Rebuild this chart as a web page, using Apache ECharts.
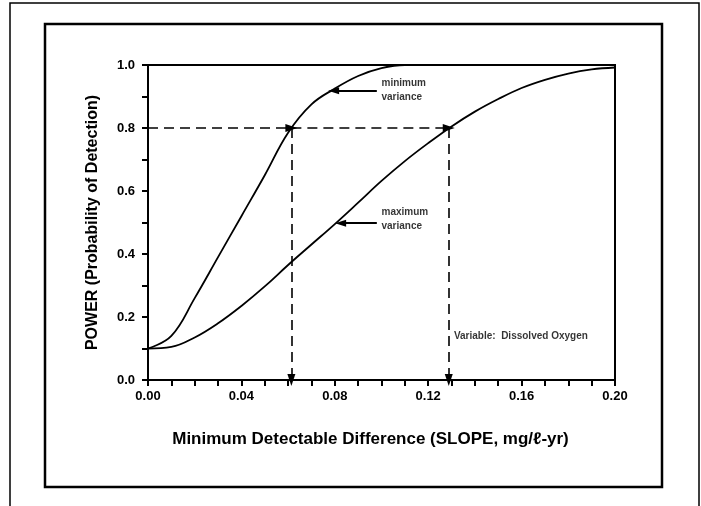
<!DOCTYPE html>
<html>
<head>
<meta charset="utf-8">
<script src="https://cdn.jsdelivr.net/npm/echarts@6/dist/echarts.min.js"></script>
<style>
  html, body { margin: 0; padding: 0; background: #fff; }
  #chart { width: 701px; height: 506px; }
</style>
</head>
<body>
<div id="chart"></div>
<script>
// slope values along the x axis (mg/l-yr)
var slopeX = [0, 0.01, 0.02, 0.03, 0.04, 0.05, 0.06, 0.07, 0.08, 0.09, 0.10,
  0.11, 0.12, 0.13, 0.14, 0.15, 0.16, 0.17, 0.18, 0.19, 0.20];
// power curves
var minVariance = [0.10, 0.14, 0.26, 0.39, 0.52, 0.65, 0.785, 0.875, 0.925, 0.965, 0.99,
  1.0, 1.0, 1.0, 1.0, 1.0, 1.0, 1.0, 1.0, 1.0, 1.0];
var maxVariance = [0.10, 0.105, 0.135, 0.18, 0.235, 0.297, 0.365, 0.43, 0.495, 0.563, 0.632,
  0.695, 0.752, 0.805, 0.852, 0.892, 0.927, 0.953, 0.973, 0.986, 0.992];
// power level and the detectable slopes where each curve reaches it
var powerLevel = 0.8;
var mddMin = 0.0614;
var mddMax = 0.1288;
var xTicks = [0, 0.04, 0.08, 0.12, 0.16, 0.20];
var yTicks = [0, 0.2, 0.4, 0.6, 0.8, 1.0];

function pair(xs, ys) {
  return xs.map(function (x, i) { return [x, ys[i]]; });
}

var myChart = echarts.init(document.getElementById('chart'));

var font = '"Liberation Sans", Arial, sans-serif';
var dashStyle = { color: '#000', type: [10, 6], width: 1.6 };

var option = {
  backgroundColor: '#fff',
  animation: false,
  grid: {
    left: 148,
    right: 86,
    top: 65,
    bottom: 126,
    show: true,
    borderColor: '#000',
    borderWidth: 2
  },
  xAxis: {
    type: 'value',
    min: 0,
    max: 0.2,
    interval: 0.04,
    name: 'Minimum Detectable Difference (SLOPE, mg/\u2113-yr)',
    nameLocation: 'middle',
    nameGap: 51,
    nameTextStyle: {
      fontFamily: font, fontWeight: 'bold', fontSize: 17, color: '#000',
      padding: [0, 22, 0, 0]
    },
    axisLine: { lineStyle: { color: '#000', width: 2 } },
    axisTick: { length: 6, lineStyle: { color: '#000', width: 2 } },
    minorTick: { show: true, splitNumber: 4, length: 6, lineStyle: { color: '#000', width: 2 } },
    splitLine: { show: false },
    axisLabel: {
      margin: 10,
      fontFamily: font, fontWeight: 'bold', fontSize: 13, color: '#000',
      formatter: function (v) { return v.toFixed(2); },
      customValues: xTicks
    }
  },
  yAxis: {
    type: 'value',
    min: 0,
    max: 1,
    interval: 0.2,
    name: 'POWER (Probability of Detection)',
    nameLocation: 'middle',
    nameGap: 47,
    nameTextStyle: { fontFamily: font, fontWeight: 'bold', fontSize: 16, color: '#000' },
    axisLine: { show: true, lineStyle: { color: '#000', width: 2 } },
    axisTick: { show: true, length: 6, lineStyle: { color: '#000', width: 2 } },
    minorTick: { show: true, splitNumber: 2, length: 6, lineStyle: { color: '#000', width: 2 } },
    splitLine: { show: false },
    axisLabel: {
      margin: 13,
      fontFamily: font, fontWeight: 'bold', fontSize: 13, color: '#000',
      formatter: function (v) { return v.toFixed(1); },
      customValues: yTicks
    }
  },
  series: [
    {
      name: 'minimum variance',
      type: 'line',
      smooth: 0.4,
      symbol: 'none',
      lineStyle: { color: '#000', width: 1.8 },
      data: pair(slopeX, minVariance),
      markLine: {
        silent: true,
        symbol: ['none', 'triangle'],
        symbolSize: [8, 12],
        label: { show: false },
        lineStyle: dashStyle,
        data: [
          [{ coord: [0, powerLevel] }, { coord: [mddMin, powerLevel] }],
          [{ coord: [mddMin, powerLevel] }, { coord: [mddMax, powerLevel] }],
          [{ coord: [mddMin, powerLevel] }, { coord: [mddMin, 0] }],
          [{ coord: [mddMax, powerLevel] }, { coord: [mddMax, 0] }]
        ]
      }
    },
    {
      name: 'maximum variance',
      type: 'line',
      smooth: 0.4,
      symbol: 'none',
      lineStyle: { color: '#000', width: 1.8 },
      data: pair(slopeX, maxVariance),
      markLine: {
        silent: true,
        symbol: ['none', 'triangle'],
        symbolSize: [7, 11],
        label: { show: false },
        lineStyle: { color: '#000', type: 'solid', width: 2 },
        data: [
          [{ coord: [0.098, 0.918] }, { coord: [0.0795, 0.918] }],
          [{ coord: [0.098, 0.498] }, { coord: [0.0825, 0.498] }]
        ]
      }
    },
    {
      // annotation texts, anchored in data coordinates
      type: 'scatter',
      symbolSize: 0,
      silent: true,
      data: [
        { value: [0.1, 0.92], name: 'minimum\nvariance' },
        { value: [0.1, 0.51], name: 'maximum\nvariance' },
        { value: [0.131, 0.14], name: 'Variable:  Dissolved Oxygen' }
      ],
      label: {
        show: true,
        position: 'right',
        distance: 0,
        formatter: '{b}',
        fontFamily: font,
        fontWeight: 'bold',
        fontSize: 10,
        lineHeight: 14,
        color: '#000'
      }
    }
  ],
  graphic: [
    {
      type: 'rect',
      shape: { x: 45, y: 24, width: 617, height: 463 },
      style: { fill: null, stroke: '#000', lineWidth: 2.5 }
    },
    {
      type: 'polyline',
      shape: { points: [[10, 506], [10, 3], [699, 3], [699, 506]] },
      style: { fill: null, stroke: '#000', lineWidth: 1.5 }
    }
  ]
};

myChart.setOption(option);
</script>
</body>
</html>
